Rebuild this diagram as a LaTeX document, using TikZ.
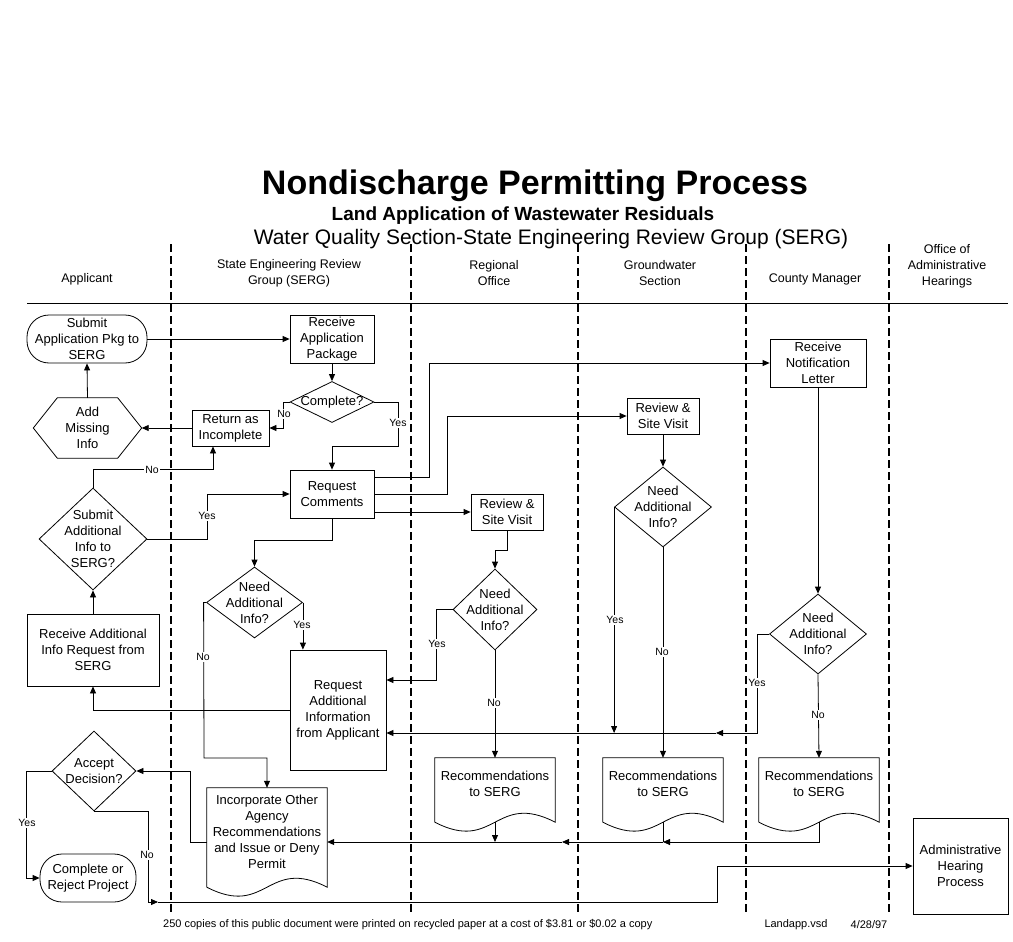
\documentclass[tikz,border=0pt]{standalone}
\usepackage{fontspec}
\setmainfont{Liberation Sans}
\usetikzlibrary{arrows.meta,calc,shapes.geometric}
\newcommand\bxf{\fontsize{13}{16}\selectfont}
\newcommand\drawdoc[1]{\draw[ln] (#1.south west) -- (#1.north west) -- (#1.north east) -- (#1.south east) .. controls ($(#1.south)+(0,-31)$) and ($(#1.south)+(0,31)$) .. (#1.south west);}
\tikzset{
  ln/.style={line width=0.8pt},
  arr/.style={ln, -{Triangle[length=7pt,width=6pt]}},
  box/.style={draw, ln, rectangle, inner sep=1pt, align=center, font=\bxf},
  stad/.style={box, rounded corners=22pt},
  plain/.style={rectangle, inner sep=1pt, align=center, font=\bxf},
  dia/.style={draw, ln, diamond, inner sep=0pt},
  dtxt/.style={font=\bxf, align=center, inner sep=0pt},
  docn/.style={rectangle, inner sep=0pt, minimum width=120pt},
  lab/.style={font=\fontsize{10.5}{12}\selectfont, fill=white, inner sep=1pt},
  lane/.style={font=\fontsize{12.5}{16}\selectfont, align=center},
  lanedash/.style={line width=1.6pt, dash pattern=on 8pt off 4pt},
  foot/.style={font=\fontsize{11}{13}\selectfont, inner sep=0pt}
}
\begin{document}
\begin{tikzpicture}[x=1pt,y=-1pt]
\useasboundingbox (0,0) rectangle (1013,942);
% titles
\node[font=\bfseries\fontsize{34}{40}\selectfont] (title) at (535,186) {Nondischarge Permitting Process};
\node[font=\bfseries\fontsize{19}{22}\selectfont] (sub1) at (523,216) {Land Application of Wastewater Residuals};
\node[font=\fontsize{21}{24}\selectfont] (sub2) at (551,239) {Water Quality Section-State Engineering Review Group (SERG)};
% lane headers
\node[lane] (hA) at (87,279) {Applicant};
\node[lane] (hS) at (289,273) {State Engineering Review\\Group (SERG)};
\node[lane] (hR) at (494,273) {Regional\\Office};
\node[lane] (hG) at (660,273) {Groundwater\\Section};
\node[lane] (hC) at (815,279) {County Manager};
\node[lane] (hO) at (947,266) {Office of\\Administrative\\Hearings};
\draw[line width=1pt] (27,303) -- (1008,303);
\foreach \x in {171,411,578,746,889} \draw[lanedash] (\x,244) -- (\x,912);
% Applicant
\node[stad, minimum width=120pt, minimum height=48pt] (sub) at (87,339) {Submit\\Application Pkg to\\SERG};
\node[plain, minimum width=108pt, minimum height=60pt] (add) at (87.5,428) {Add\\Missing\\Info};
\draw[ln] (add.west) -- ($(add.north west)+(24,0)$) -- ($(add.north east)+(-24,0)$) -- (add.east) -- ($(add.south east)+(-24,0)$) -- ($(add.south west)+(24,0)$) -- cycle;
\node[dia, minimum width=108pt, minimum height=102pt, label={[dtxt]center:Submit\\Additional\\Info to\\SERG?}] (sai) at (93,539) {};
\node[box, minimum width=132pt, minimum height=72pt] (rai) at (93,650) {Receive Additional\\Info Request from\\SERG};
\node[dia, minimum width=84pt, minimum height=80pt, label={[dtxt]center:Accept\\Decision?}] (acc) at (94,771) {};
\node[stad, minimum width=96pt, minimum height=48pt] (cor) at (88,878) {Complete or\\Reject Project};
% SERG
\node[box, minimum width=84pt, minimum height=48pt] (rap) at (332,339) {Receive\\Application\\Package};
\node[dia, minimum width=84pt, minimum height=41pt, label={[dtxt]center:Complete?}] (cmp) at (332,402) {};
\node[box, minimum width=77pt, minimum height=36pt] (ret) at (230.5,428) {Return as\\Incomplete};
\node[box, minimum width=84pt, minimum height=48pt] (rqc) at (332,494) {Request\\Comments};
\node[dia, minimum width=96pt, minimum height=71pt, label={[dtxt]center:Need\\Additional\\Info?}] (sn) at (254.5,602.5) {};
\node[box, minimum width=96pt, minimum height=120pt] (rqa) at (338,710) {Request\\Additional\\Information\\from Applicant};
\node[docn, minimum height=99pt, label={[dtxt, yshift=6pt]center:Incorporate Other\\Agency\\Recommendations\\and Issue or Deny\\Permit}] (inc) at (267,837.5) {};
\drawdoc{inc}
% Regional
\node[box, minimum width=72pt, minimum height=36pt] (rrv) at (507,512) {Review \&\\Site Visit};
\node[dia, minimum width=84pt, minimum height=81pt, label={[dtxt]center:Need\\Additional\\Info?}] (rn) at (495,609.5) {};
\node[docn, minimum height=64pt, label={[dtxt, yshift=6pt]center:Recommendations\\to SERG}] (rrec) at (495,790) {};
\drawdoc{rrec}
% Groundwater
\node[box, minimum width=72pt, minimum height=36pt] (grv) at (663,416) {Review \&\\Site Visit};
\node[dia, minimum width=97pt, minimum height=80pt, label={[dtxt]center:Need\\Additional\\Info?}] (gn) at (663,507) {};
\node[docn, minimum height=64pt, label={[dtxt, yshift=6pt]center:Recommendations\\to SERG}] (grec) at (663,790) {};
\drawdoc{grec}
% County
\node[box, minimum width=96pt, minimum height=48pt] (crn) at (818,363) {Receive\\Notification\\Letter};
\node[dia, minimum width=97pt, minimum height=80pt, label={[dtxt]center:Need\\Additional\\Info?}] (cn) at (818,634) {};
\node[docn, minimum height=64pt, label={[dtxt, yshift=6pt]center:Recommendations\\to SERG}] (crec) at (819,790) {};
\drawdoc{crec}
% Admin
\node[box, minimum width=95pt, minimum height=96pt] (ahp) at (960.5,866) {Administrative\\Hearing\\Process};
% helper coordinates
\coordinate (retin) at ($(ret.south)+(-17.5,0)$);
\coordinate (cy) at (757,733);
\coordinate (cyarr) at (716,733);
\coordinate (bus) at (562,842);
\coordinate (ilft) at (190,842);
\coordinate (nocorner) at (148,902);
\coordinate (noarr) at (158,902);
\coordinate (noup) at (717,902);
% connectors
\draw[arr] (sub.east) -- (rap.west);
\draw[arr] (rap.south) -- (cmp.north);
\draw[arr] (cmp.west) -- ++(-6,0) |- (ret.east);
\draw[arr] (cmp.east) -- (398,402) -- (398,446) -| (rqc.north);
\draw[arr] (ret.west) -- (add.east);
\draw[arr] (add.north) -- (sub.south);
\draw[arr] (sai.north) -- ++(0,-18) -| (retin);
\draw[arr] (sai.east) -- ++(60,0) |- (rqc.west);
\draw[arr] ($(rqc.east)+(0,-17)$) -- (429,477) |- (crn.west);
\draw[arr] (rqc.east) -- (447,494) |- (grv.west);
\draw[arr] ($(rqc.east)+(0,18)$) -- (rrv.west);
\draw[arr] (rqc.south) -- ++(0,22) -| (sn.north);
\draw[arr] (sn.west) -- ++(-2.5,0) -- (204,758) -| (inc.north);
\draw[arr] (sn.east) -- (sn.east |- rqa.north);
\draw[arr] (rqa.west) -| (rai.south);
\draw[arr] (rai.north) -- (sai.south);
\draw[arr] (rrv.south) -- ++(0,20) -| (rn.north);
\draw[arr] (rn.west) -- ++(-16,0) |- ($(rqa.east)+(0,-30)$);
\draw[arr] (rn.south) -- (rrec.north);
\draw[arr] (grv.south) -- (gn.north);
\draw[arr] (gn.west) -- (gn.west |- cy);
\draw[arr] (gn.south) -- (grec.north);
\draw[arr] (crn.south) -- (cn.north);
\draw[arr] (cn.west) -- (cy |- cn.west) -- (cy) -- (cyarr);
\draw[arr] (cyarr) -- (rqa.east |- cy);
\draw[arr] (cn.south) -- (crec.north);
\draw[arr] (crec.south) -- (crec.south |- bus) -- (grec.south |- bus);
\draw[ln] (grec.south) -- (grec.south |- bus);
\draw[arr] (grec.south |- bus) -- (bus);
\draw[arr] (bus) -- (inc.east |- bus);
\draw[arr] (rrec.south) -- (rrec.south |- bus);
\draw[arr] (inc.west |- bus) -- (ilft) |- (acc.east);
\draw[arr] (acc.west) -- ++(-25,0) |- (cor.west);
\draw[arr] (acc.south) -| (nocorner) -- (noarr);
\draw[arr] (noarr) -- (noup) |- (ahp.west);
% labels
\node[lab] (l1) at (284,414) {No};
\node[lab] (l2) at (398,423) {Yes};
\node[lab] (l3) at (152,470) {No};
\node[lab] (l4) at (207,516) {Yes};
\node[lab] (l5) at (203,657) {No};
\node[lab] (l6) at (302,625) {Yes};
\node[lab] (l7) at (437,644) {Yes};
\node[lab] (l8) at (494,703) {No};
\node[lab] (l9) at (615,620) {Yes};
\node[lab] (l10) at (662,652) {No};
\node[lab] (l11) at (757,683) {Yes};
\node[lab] (l12) at (818,715) {No};
\node[lab] (l13) at (27,823) {Yes};
\node[lab] (l14) at (147,855) {No};
% footer
\node[foot, anchor=west] (f1) at (163,925) {250 copies of this public document were printed on recycled paper at a cost of \$3.81 or \$0.02 a copy};
\node[foot] (f2) at (796,925) {Landapp.vsd};
\node[foot] (f3) at (869,925) {4/28/97};
\end{tikzpicture}
\end{document}
